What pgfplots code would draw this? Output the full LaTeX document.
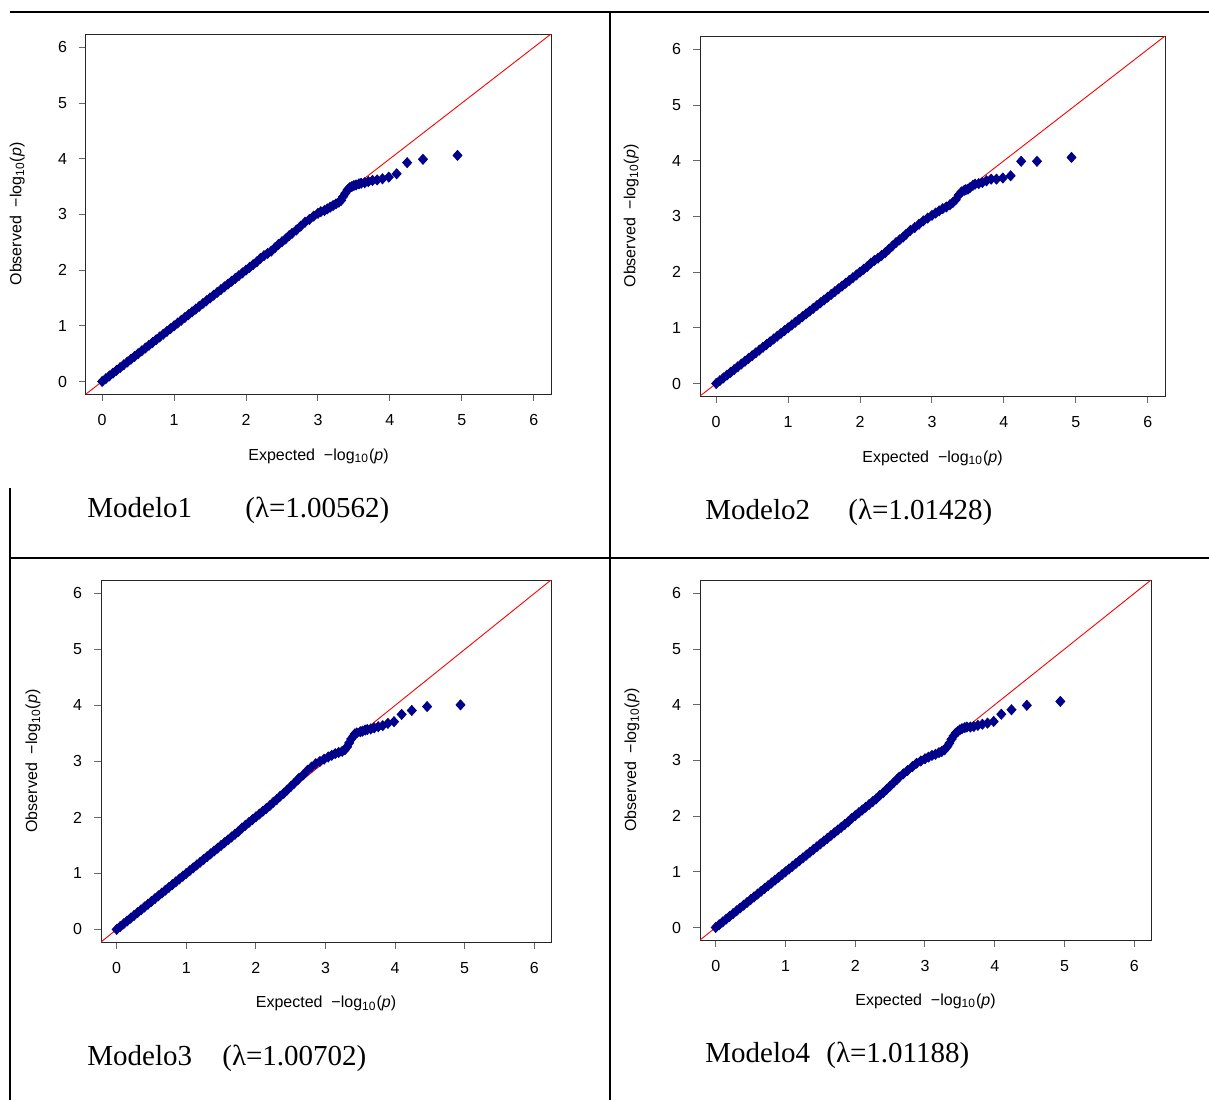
\documentclass[border=0pt]{standalone}
\usepackage{pgfplots}
\pgfplotsset{compat=1.18}
\usepackage{fontspec}
\setmainfont{Liberation Serif}
\newfontfamily\arial{Liberation Sans}
\definecolor{rdarkblue}{RGB}{0,0,139}
\pgfplotsset{
  qq/.style={
    scale only axis,
    xmin=-0.225, xmax=6.24, ymin=-0.225, ymax=6.24,
    xtick={0,1,2,3,4,5,6}, ytick={0,1,2,3,4,5,6},
    xtick pos=bottom, ytick pos=left,
    tick align=outside, major tick length=3.5pt,
    tick style={gray!80!black, line width=0.5pt},
    axis line style={black!85, line width=0.5pt},
    /pgf/number format/assume math mode=true,
    tick label style={font=\arial\fontsize{8}{9}\selectfont, black},
    xticklabel style={yshift=-3pt},
    yticklabel style={xshift=-2.5pt},
    label style={font=\arial\fontsize{8}{9}\selectfont},
    xlabel={Expected\ \ −log\textsubscript{10}(\textit{p})},
    ylabel={Observed\ \ −log\textsubscript{10}(\textit{p})},
    xlabel style={at={(axis description cs:0.5,-0.172)}, anchor=center},
    ylabel style={at={(axis description cs:-0.148,0.5)}, anchor=center},
  },
  pts/.style={only marks, mark=diamond*, mark size=2.5pt,
    mark options={rdarkblue, xscale=1.2}, color=rdarkblue},
  refl/.style={red, line width=0.45pt, forget plot},
}
\begin{document}
\begin{tikzpicture}
\useasboundingbox (0pt,0pt) rectangle (604.5pt,-550pt);
% table lines
\draw[line width=0.9pt] (5pt,-6pt) -- (604.5pt,-6pt);
\draw[line width=0.9pt] (305pt,-6pt) -- (305pt,-550pt);
\draw[line width=0.9pt] (5pt,-244pt) -- (5pt,-550pt);
\draw[line width=0.9pt] (5pt,-279pt) -- (604.5pt,-279pt);

% ---------------- Panel 1
\begin{axis}[qq, at={(43pt,-17pt)}, anchor=north west, width=232.5pt, height=180pt]
\addplot[pts] coordinates {
(0,0) (0.05,0.05) (0.10,0.10) (0.15,0.15) (0.20,0.20) (0.25,0.25) (0.30,0.30) (0.35,0.35) (0.40,0.40) (0.45,0.45)
(0.50,0.50) (0.55,0.55) (0.60,0.60) (0.65,0.65) (0.70,0.70) (0.75,0.75) (0.80,0.80) (0.85,0.85) (0.90,0.90) (0.95,0.95)
(1.00,1.00) (1.05,1.05) (1.10,1.10) (1.15,1.15) (1.20,1.20) (1.25,1.25) (1.30,1.30) (1.35,1.35) (1.40,1.40) (1.45,1.45)
(1.50,1.50) (1.55,1.55) (1.60,1.60) (1.65,1.65) (1.70,1.70) (1.75,1.75) (1.80,1.80) (1.85,1.85) (1.90,1.90) (1.95,1.95)
(2.00,2.00) (2.05,2.05) (2.10,2.10) (2.15,2.15) (2.20,2.21) (2.25,2.26) (2.30,2.30) (2.35,2.34) (2.40,2.40) (2.45,2.46)
(2.50,2.51) (2.55,2.56) (2.60,2.62)
(2.64,2.66) (2.70,2.72) (2.76,2.79) (2.82,2.86) (2.88,2.91) (2.94,2.97) (3.00,3.02) (3.04,3.05) (3.09,3.07) (3.13,3.10)
(3.17,3.13) (3.21,3.16) (3.25,3.19) (3.29,3.22) (3.32,3.25) (3.35,3.32) (3.38,3.38) (3.41,3.44) (3.44,3.48) (3.47,3.50)
(3.50,3.52) (3.53,3.53) (3.57,3.55) (3.60,3.56) (3.65,3.57) (3.70,3.59) (3.758,3.61) (3.823,3.62) (3.897,3.64) (3.985,3.67)
(4.094,3.73) (4.24,3.93) (4.46,3.99) (4.94,4.06)
};
\addplot[refl] coordinates {(-0.5,-0.5) (6.5,6.5)};
\end{axis}

% ---------------- Panel 2
\begin{axis}[qq, at={(350pt,-18pt)}, anchor=north west, width=232.5pt, height=180pt]
\addplot[pts] coordinates {
(0,0) (0.05,0.05) (0.10,0.10) (0.15,0.15) (0.20,0.20) (0.25,0.25) (0.30,0.30) (0.35,0.35) (0.40,0.40) (0.45,0.45)
(0.50,0.50) (0.55,0.55) (0.60,0.60) (0.65,0.65) (0.70,0.70) (0.75,0.75) (0.80,0.80) (0.85,0.85) (0.90,0.90) (0.95,0.95)
(1.00,1.00) (1.05,1.05) (1.10,1.10) (1.15,1.15) (1.20,1.20) (1.25,1.25) (1.30,1.30) (1.35,1.35) (1.40,1.40) (1.45,1.45)
(1.50,1.50) (1.55,1.55) (1.60,1.60) (1.65,1.65) (1.70,1.70) (1.75,1.75) (1.80,1.80) (1.85,1.85) (1.90,1.90) (1.95,1.95)
(2.00,2.00) (2.05,2.05) (2.10,2.10) (2.15,2.16) (2.20,2.21) (2.25,2.25) (2.30,2.30) (2.35,2.35) (2.40,2.41) (2.45,2.47)
(2.50,2.53) (2.55,2.58) (2.60,2.63)
(2.64,2.68) (2.70,2.75) (2.76,2.80) (2.82,2.86) (2.88,2.92) (2.94,2.97) (3.00,3.02) (3.05,3.06) (3.10,3.10) (3.15,3.14)
(3.20,3.17) (3.25,3.21) (3.29,3.25) (3.33,3.30) (3.37,3.38) (3.41,3.44) (3.45,3.47) (3.47,3.48) (3.50,3.49) (3.53,3.52)
(3.57,3.56) (3.60,3.58) (3.65,3.59) (3.70,3.61) (3.758,3.64) (3.823,3.67) (3.897,3.67) (3.985,3.69) (4.094,3.73) (4.24,3.99)
(4.46,3.99) (4.94,4.06)
};
\addplot[refl] coordinates {(-0.5,-0.5) (6.5,6.5)};
\end{axis}

% ---------------- Panel 3
\begin{axis}[qq, at={(50.5pt,-290pt)}, anchor=north west, width=225pt, height=181pt,
  xlabel style={at={(axis description cs:0.5,-0.169)}},
  ylabel style={at={(axis description cs:-0.151,0.5)}}]
\addplot[pts] coordinates {
(0,0) (0.05,0.05) (0.10,0.10) (0.15,0.15) (0.20,0.20) (0.25,0.25) (0.30,0.30) (0.35,0.35) (0.40,0.40) (0.45,0.45)
(0.50,0.50) (0.55,0.55) (0.60,0.60) (0.65,0.65) (0.70,0.70) (0.75,0.75) (0.80,0.80) (0.85,0.85) (0.90,0.90) (0.95,0.95)
(1.00,1.00) (1.05,1.05) (1.10,1.10) (1.15,1.15) (1.20,1.20) (1.25,1.25) (1.30,1.30) (1.35,1.35) (1.40,1.40) (1.45,1.45)
(1.50,1.50) (1.55,1.55) (1.60,1.60) (1.65,1.65) (1.70,1.70) (1.75,1.75) (1.80,1.81) (1.85,1.86) (1.90,1.91) (1.95,1.96)
(2.00,2.01) (2.05,2.06) (2.10,2.11) (2.15,2.16) (2.20,2.21) (2.25,2.27) (2.30,2.32) (2.35,2.38) (2.40,2.43) (2.45,2.49)
(2.50,2.55) (2.55,2.61) (2.60,2.67)
(2.62,2.70) (2.68,2.76) (2.74,2.84) (2.80,2.90) (2.86,2.96) (2.92,3.00) (2.98,3.04) (3.04,3.08) (3.09,3.11) (3.14,3.14)
(3.19,3.16) (3.24,3.18) (3.28,3.21) (3.31,3.26) (3.34,3.33) (3.37,3.40) (3.40,3.45) (3.42,3.49) (3.45,3.51) (3.50,3.53)
(3.53,3.54) (3.57,3.56) (3.60,3.57) (3.65,3.58) (3.70,3.60) (3.758,3.62) (3.823,3.64) (3.897,3.68) (3.985,3.71) (4.094,3.84)
(4.24,3.91) (4.46,3.98) (4.94,4.01)
};
\addplot[refl] coordinates {(-0.5,-0.5) (6.5,6.5)};
\end{axis}

% ---------------- Panel 4
\begin{axis}[qq, at={(350pt,-290pt)}, anchor=north west, width=225.5pt, height=180pt,
  xlabel style={at={(axis description cs:0.5,-0.169)}},
  ylabel style={at={(axis description cs:-0.151,0.5)}}]
\addplot[pts] coordinates {
(0,0) (0.05,0.05) (0.10,0.10) (0.15,0.15) (0.20,0.20) (0.25,0.25) (0.30,0.30) (0.35,0.35) (0.40,0.40) (0.45,0.45)
(0.50,0.50) (0.55,0.55) (0.60,0.60) (0.65,0.65) (0.70,0.70) (0.75,0.75) (0.80,0.80) (0.85,0.85) (0.90,0.90) (0.95,0.95)
(1.00,1.00) (1.05,1.05) (1.10,1.10) (1.15,1.15) (1.20,1.20) (1.25,1.25) (1.30,1.30) (1.35,1.35) (1.40,1.40) (1.45,1.45)
(1.50,1.50) (1.55,1.55) (1.60,1.60) (1.65,1.65) (1.70,1.70) (1.75,1.75) (1.80,1.80) (1.85,1.85) (1.90,1.90) (1.95,1.96)
(2.00,2.01) (2.05,2.06) (2.10,2.11) (2.15,2.16) (2.20,2.21) (2.25,2.26) (2.30,2.31) (2.35,2.37) (2.40,2.42) (2.45,2.48)
(2.50,2.54) (2.55,2.60) (2.60,2.66)
(2.63,2.70) (2.69,2.76) (2.75,2.82) (2.82,2.89) (2.88,2.95) (2.94,2.99) (3.00,3.03) (3.05,3.06) (3.10,3.09) (3.15,3.11)
(3.20,3.14) (3.24,3.16) (3.28,3.19) (3.32,3.25) (3.35,3.31) (3.38,3.38) (3.41,3.44) (3.44,3.49) (3.47,3.52) (3.50,3.55)
(3.53,3.57) (3.57,3.59) (3.60,3.60) (3.65,3.60) (3.70,3.61) (3.758,3.63) (3.823,3.65) (3.897,3.67) (3.985,3.70) (4.094,3.83)
(4.24,3.91) (4.46,3.99) (4.94,4.06)
};
\addplot[refl] coordinates {(-0.5,-0.5) (6.5,6.5)};
\end{axis}

% captions
\begin{scope}[every node/.style={anchor=base west, inner sep=0pt, font=\fontsize{14.5}{16}\selectfont}]
\node at (43.5pt,-258.5pt) {Modelo1};
\node at (122.5pt,-258.5pt) {(λ=1.00562)};
\node at (352.5pt,-259.5pt) {Modelo2};
\node at (424pt,-259.5pt) {(λ=1.01428)};
\node at (43.5pt,-532.5pt) {Modelo3};
\node at (111pt,-532.5pt) {(λ=1.00702)};
\node at (352.5pt,-531pt) {Modelo4};
\node at (413pt,-531pt) {(λ=1.01188)};
\end{scope}
\end{tikzpicture}
\end{document}
